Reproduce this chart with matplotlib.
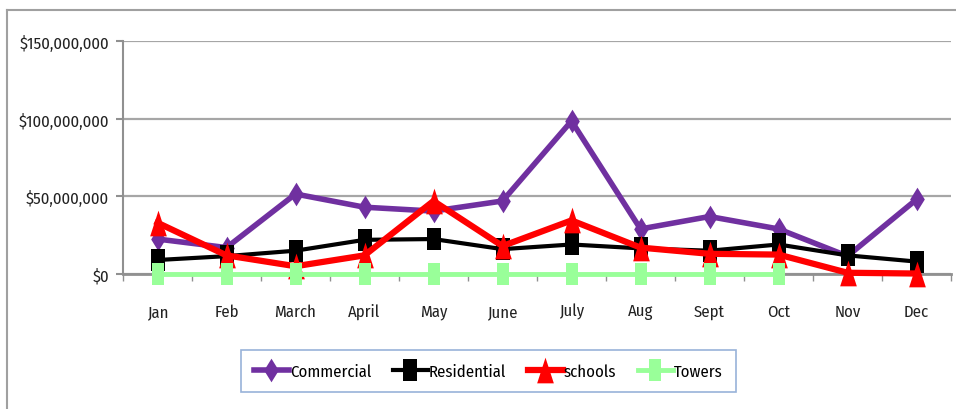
import numpy as np
import matplotlib
matplotlib.use("Agg")
import matplotlib.pyplot as plt
from matplotlib.lines import Line2D
from matplotlib.ticker import FuncFormatter, MultipleLocator

months = ["Jan", "Feb", "March", "April", "May", "June", "July", "Aug", "Sept", "Oct", "Nov", "Dec"]
commercial = [22.5e6, 17e6, 51.5e6, 43e6, 40.5e6, 47e6, 98.5e6, 29e6, 37e6, 29e6, 11.5e6, 48e6]
residential = [9e6, 11.5e6, 15e6, 22e6, 22.5e6, 16e6, 19e6, 16.5e6, 15e6, 19e6, 12e6, 8e6]
schools = [33e6, 12e6, 5e6, 12e6, 47e6, 18e6, 34.5e6, 17e6, 13e6, 12.5e6, 0.8e6, 0.3e6]
towers = [0, 0, 0, 0, 0, 0, 0, 0, 0, 0, np.nan, np.nan]

plt.rcParams['font.family'] = ['Fira Sans Condensed', 'DejaVu Sans']

fig = plt.figure(figsize=(9.56, 4.10), dpi=100)
ax = fig.add_axes([123/956, 1-275/410, (951-123)/956, (275-42)/410])

diamond = [(0, 1), (0.62, 0), (0, -1), (-0.62, 0), (0, 1)]
rect = [(-0.6, -1), (0.6, -1), (0.6, 1), (-0.6, 1), (-0.6, -1)]
tri = [(-0.65, -1), (0.65, -1), (0, 1), (-0.65, -1)]

x = np.arange(len(months))
series = [
    ("Commercial", commercial, "#7030A0", diamond, 4, 17),
    ("Residential", residential, "#000000", rect, 3, 16.5),
    ("schools", schools, "#FF0000", tri, 4.5, 18.5),
    ("Towers", towers, "#99FF99", rect, 3.5, 15.5),
]
for i, (name, vals, col, mk, lw, ms) in enumerate(series):
    ax.plot(x, vals, color=col, lw=lw, marker=mk, markersize=ms,
            markerfacecolor=col, markeredgecolor=col, markeredgewidth=0,
            label=name, clip_on=False, zorder=3 + i)

ax.set_xlim(-0.5, 11.5)
ax.set_ylim(0, 150e6)
ax.yaxis.set_major_locator(MultipleLocator(50e6))
ax.yaxis.set_major_formatter(FuncFormatter(lambda v, p: "${:,.0f}".format(v)))
ax.set_xticks(x)
ax.set_xticklabels(months)
ax.set_xticks(np.arange(-0.5, 12, 1), minor=True)
ax.tick_params(axis='x', which='major', length=0, pad=21, labelsize=12, colors='#222222')
ax.tick_params(axis='x', which='minor', length=5, width=1, color='#909090', direction='out')
ax.tick_params(axis='y', which='major', length=5, width=1.5, color='#909090', labelsize=12,
               labelcolor='#222222', pad=5)

ax.grid(axis='y', color='#A6A6A6', lw=1.6, zorder=0)
ax.set_axisbelow(True)
for s in ['top', 'right']:
    ax.spines[s].set_visible(False)
ax.spines['left'].set_color('#909090')
ax.spines['left'].set_linewidth(1.5)
ax.spines['bottom'].set_color('#909090')
ax.spines['bottom'].set_linewidth(2)
ax.spines['bottom'].set_zorder(2)

# outer chart-area border (top and left)
fig.add_artist(Line2D([7/956, 1], [1-11/410, 1-11/410], color='#A0A0A0', lw=1.5, transform=fig.transFigure))
fig.add_artist(Line2D([7/956, 7/956], [0, 1-11/410], color='#A0A0A0', lw=1.5, transform=fig.transFigure))

leg = fig.legend(loc='center', bbox_to_anchor=(488/956, 1-372/410), ncol=4,
                 frameon=True, fancybox=False, fontsize=12, handlelength=2.1,
                 handletextpad=0.05, columnspacing=1.3, borderpad=0.8)
leg.get_frame().set_edgecolor('#7F9FCF')
leg.get_frame().set_linewidth(1.2)

fig.savefig("out.png", dpi=100)
